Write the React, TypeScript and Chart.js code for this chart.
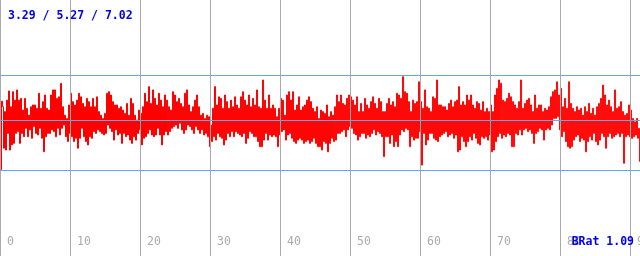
import React, { useEffect, useRef } from 'react';
import { Chart, registerables } from 'chart.js';

Chart.register(...registerables);

// ---- data ----
const SAMPLES_PER_UNIT = 7; // samples per x unit
const SAMPLE_OFFSET = 0.5; // samples sit at the middle of each step
const X_MIN = 0;
const X_MAX = 91.42;
const Y_MIN = -0.05;
const Y_MAX = 10;
const X_TICKS = [0, 10, 20, 30, 40, 50, 60, 70, 80, 90];
const REF_LINES = [3.29, 5.27, 7.02];
const STATS_LABEL = '3.29 / 5.27 / 7.02';
const RATIO_LABEL = 'BRat 1.09';

const seg1 = [
  3.33, 6.03, 5.81, 4.18, 5.62, 4.11, 6.07, 4.76, 6.43, 4.11, 5.81, 4.31, 6.40, 4.37, 6.07, 4.76,
  6.47, 4.83, 6.07, 4.37, 6.14, 4.76, 5.68, 4.63, 6.14, 4.96, 5.75, 4.63, 5.48, 4.90, 5.81, 4.57,
  5.88, 5.03, 5.88, 4.76, 5.75, 4.70, 6.34, 4.96, 5.75, 4.57, 6.01, 4.04, 6.27, 4.63, 5.75, 4.76,
  5.68, 4.76, 6.27, 4.90, 6.47, 4.83, 6.47, 4.63, 6.14, 4.96, 6.20, 4.70, 6.73, 4.96, 5.81, 5.09,
  5.48, 4.63, 5.35, 4.44, 5.88, 4.76, 6.34, 4.63, 6.01, 4.44, 5.88, 4.57, 6.07, 4.18, 6.34, 4.57,
  6.20, 4.96, 5.94, 4.63, 5.81, 4.44, 6.14, 4.31, 6.01, 4.63, 5.81, 4.57, 6.14, 4.83, 5.81, 4.76,
  6.20, 4.90, 5.62, 4.83, 5.48, 4.76, 5.35, 4.70, 5.55, 4.76, 6.34, 5.09, 6.40, 4.96, 6.27, 4.83,
  6.01, 4.50, 5.88, 4.90, 5.88, 4.70, 5.75, 4.76, 5.81, 4.37, 5.68, 4.76, 5.55, 4.63, 5.94, 4.70,
];

const seg2 = [
  5.48, 4.50, 6.14, 4.37, 5.94, 4.63, 5.48, 4.50, 5.29, 4.76, 5.68, 4.90, 5.55, 4.31, 5.81, 4.57,
  6.34, 4.63, 6.01, 4.76, 6.60, 4.90, 5.94, 4.70, 6.47, 4.63, 6.14, 4.70, 5.88, 4.96, 6.34, 4.70,
  6.07, 4.31, 5.81, 4.70, 6.27, 4.83, 6.07, 4.70, 5.81, 4.83, 5.68, 4.96, 6.40, 5.03, 6.27, 5.09,
  6.01, 4.96, 6.14, 5.16, 5.94, 4.90, 5.81, 4.76, 6.34, 4.90, 6.47, 5.09, 5.88, 5.03, 5.62, 4.90,
  5.81, 4.76, 6.07, 5.03, 6.27, 4.90, 5.81, 4.76, 5.48, 4.90, 5.55, 4.70, 5.35, 4.76, 5.48, 4.63,
  5.42, 4.24, 5.09, 4.44, 5.75, 4.63, 6.60, 4.50, 5.88, 4.76, 6.20, 4.63, 6.14, 4.57, 5.75, 4.31,
  6.27, 4.50, 6.01, 4.76, 5.75, 4.63, 6.07, 4.83, 5.81, 4.63, 6.20, 4.83, 5.88, 4.76, 5.75, 4.70,
  6.20, 4.63, 6.40, 4.76, 6.07, 4.37, 5.88, 4.57, 6.27, 4.83, 5.81, 4.76, 6.14, 4.63, 5.88, 4.63,
];

const seg3 = [
  6.47, 4.44, 5.81, 4.24, 5.75, 4.24, 6.86, 4.50, 6.07, 4.76, 5.75, 4.50, 6.27, 4.70, 5.75, 4.63,
  5.88, 4.70, 5.75, 4.63, 5.42, 4.24, 5.75, 4.70, 6.14, 4.83, 6.07, 4.90, 5.48, 4.50, 6.27, 4.70,
  6.40, 4.76, 6.07, 4.57, 6.40, 4.44, 5.68, 4.37, 5.88, 4.50, 6.20, 4.57, 5.68, 4.50, 5.81, 4.37,
  5.88, 4.44, 6.07, 4.50, 6.20, 4.37, 6.01, 4.44, 5.75, 4.57, 5.62, 4.37, 5.81, 4.24, 5.35, 4.24,
  5.68, 4.11, 5.62, 4.44, 5.55, 4.37, 5.88, 4.04, 5.42, 4.37, 5.62, 4.57, 5.48, 4.44, 5.81, 4.50,
  6.27, 4.76, 6.01, 4.76, 6.27, 4.83, 5.94, 4.90, 5.88, 4.63, 6.14, 4.90, 6.27, 5.03, 6.20, 4.96,
  6.07, 4.76, 5.88, 4.70, 6.20, 4.50, 5.62, 4.63, 5.94, 4.76, 5.62, 4.76, 6.14, 4.57, 5.88, 4.70,
  5.75, 4.63, 6.01, 4.76, 6.20, 4.90, 5.94, 4.70, 5.75, 4.83, 6.14, 4.76, 6.01, 4.63, 5.62, 3.85,
];

const seg4 = [
  5.62, 4.63, 5.94, 4.63, 6.14, 4.37, 5.88, 4.70, 6.01, 4.24, 5.81, 4.44, 6.34, 4.24, 6.27, 4.70,
  6.14, 4.90, 6.99, 4.83, 6.40, 4.96, 6.34, 4.90, 6.01, 4.24, 5.62, 4.63, 6.07, 4.50, 5.94, 4.57,
  6.01, 4.57, 6.79, 4.83, 6.01, 3.52, 5.75, 4.76, 6.47, 4.31, 5.81, 4.50, 5.75, 4.76, 5.62, 4.76,
  6.20, 4.57, 6.14, 4.50, 6.86, 4.44, 5.88, 4.63, 5.88, 4.70, 5.81, 4.76, 5.81, 4.83, 5.68, 4.63,
  5.94, 4.70, 6.07, 4.76, 5.81, 4.57, 6.01, 4.70, 6.07, 4.04, 6.60, 4.11, 5.88, 4.63, 6.01, 4.44,
  5.88, 4.24, 6.27, 4.44, 6.07, 4.63, 6.27, 4.50, 5.88, 4.76, 5.75, 4.57, 6.01, 4.37, 5.94, 4.31,
  5.68, 4.63, 6.01, 4.57, 5.62, 4.63, 5.75, 4.50, 5.62, 4.70, 5.88, 4.04, 5.62, 4.11, 6.27, 4.44,
  6.53, 4.63, 6.86, 4.76, 6.73, 4.57, 6.07, 4.70, 6.01, 4.63, 6.14, 4.76, 6.34, 4.70, 6.20, 4.24,
];

const seg5 = [
  6.01, 4.24, 5.88, 4.76, 5.75, 4.70, 6.01, 4.90, 6.86, 4.70, 5.75, 4.90, 5.94, 4.96, 6.07, 4.83,
  6.14, 4.90, 5.88, 4.76, 5.62, 4.37, 6.27, 4.76, 5.75, 4.83, 5.88, 4.96, 5.88, 4.90, 5.62, 4.50,
  5.75, 4.90, 5.68, 4.96, 5.81, 4.90, 6.20, 5.09, 6.40, 5.35, 6.47, 5.35, 6.79, 5.42, 6.27, 4.90,
  6.53, 4.63, 5.81, 4.83, 6.14, 4.44, 5.75, 4.24, 6.79, 4.18, 5.94, 4.24, 5.75, 4.50, 5.62, 4.63,
  5.81, 4.70, 5.68, 4.44, 5.75, 4.57, 5.48, 4.50, 5.81, 4.04, 5.62, 4.44, 5.94, 4.63, 5.55, 4.50,
  5.75, 4.76, 5.48, 4.44, 5.81, 4.31, 5.94, 4.50, 6.14, 4.76, 6.66, 4.63, 6.27, 4.18, 5.88, 4.63,
  6.07, 4.76, 5.81, 4.57, 5.62, 4.63, 6.47, 4.70, 5.75, 4.76, 5.81, 4.63, 6.01, 4.76, 5.62, 3.59,
  5.48, 4.63, 5.55, 4.70, 5.88, 4.63, 5.68, 4.57, 5.35, 4.63, 5.22, 4.70, 5.35, 4.57, 4.96, 3.65,
];

const SERIES = [...seg1, ...seg2, ...seg3, ...seg4, ...seg5];

// ---- styles ----
const RED = '#ff0000';
const GRID_GRAY = '#aaaaaa';
const REF_BLUE = '#5fa8f2';
const TEXT_BLUE = '#0000ee';
const TICK_GRAY = '#aaaaaa';
const MONO = '"DejaVu Sans Mono", "Liberation Mono", monospace';

const overlayPlugin = {
  id: 'overlayText',
  afterDraw(chart: any) {
    const { ctx, chartArea } = chart;
    const xs = chart.scales.x;
    ctx.save();
    ctx.textBaseline = 'alphabetic';
    ctx.textAlign = 'left';
    ctx.font = `11.5px ${MONO}`;
    ctx.fillStyle = TICK_GRAY;
    X_TICKS.forEach((t) => {
      ctx.fillText(String(t), xs.getPixelForValue(t) + 7, chartArea.bottom - 11);
    });
    ctx.font = `bold 11.5px ${MONO}`;
    ctx.fillStyle = TEXT_BLUE;
    ctx.fillText(STATS_LABEL, chartArea.left + 8, chartArea.top + 19);
    ctx.textAlign = 'right';
    ctx.fillText(RATIO_LABEL, chartArea.right - 6, chartArea.bottom - 11);
    ctx.restore();
  },
};

export default function App() {
  const ref = useRef<HTMLCanvasElement | null>(null);

  useEffect(() => {
    if (!ref.current) return;
    const data = SERIES.map((v, i) => ({ x: (i + SAMPLE_OFFSET) / SAMPLES_PER_UNIT, y: v }));
    const chart = new Chart(ref.current, {
      type: 'line',
      data: {
        datasets: [
          {
            data,
            borderColor: RED,
            borderWidth: 1,
            pointRadius: 0,
            pointHoverRadius: 0,
            stepped: 'before',
            fill: false,
          },
        ],
      },
      options: {
        animation: false,
        responsive: false,
        devicePixelRatio: 1,
        events: [],
        parsing: false,
        normalized: true,
        layout: { padding: 0, autoPadding: false },
        plugins: { legend: { display: false }, tooltip: { enabled: false }, title: { display: false } },
        scales: {
          x: {
            type: 'linear',
            min: X_MIN,
            max: X_MAX,
            afterBuildTicks: (scale: any) => {
              scale.ticks = X_TICKS.map((v) => ({ value: v }));
            },
            ticks: { display: false },
            grid: { color: GRID_GRAY, lineWidth: 1, drawTicks: false, z: 1 },
            border: { display: false },
          },
          y: {
            type: 'linear',
            min: Y_MIN,
            max: Y_MAX,
            afterBuildTicks: (scale: any) => {
              scale.ticks = REF_LINES.map((v) => ({ value: v }));
            },
            ticks: { display: false },
            grid: { color: REF_BLUE, lineWidth: 1, drawTicks: false, z: 1 },
            border: { display: false },
          },
        },
      },
      plugins: [overlayPlugin],
    });
    return () => chart.destroy();
  }, []);

  return (
    <div style={{ position: 'fixed', left: 0, top: 0, width: 640, height: 256, background: '#ffffff' }}>
      <canvas ref={ref} width={640} height={256} style={{ display: 'block', width: 640, height: 256 }} />
    </div>
  );
}
